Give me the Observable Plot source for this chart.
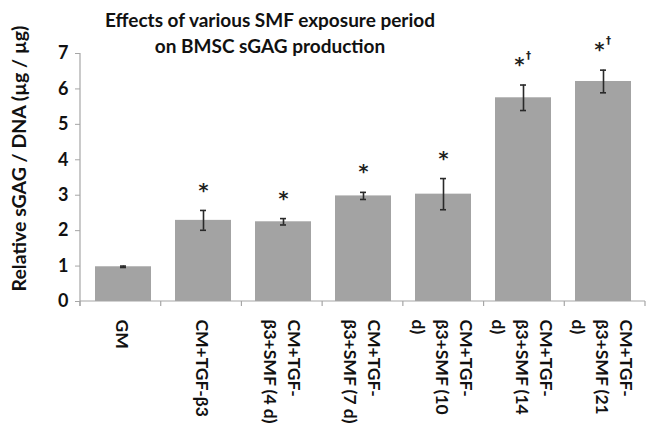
<!DOCTYPE html>
<html>
<head>
<meta charset="utf-8">
<script src="https://cdn.jsdelivr.net/npm/d3@7"></script>
<script src="https://cdn.jsdelivr.net/npm/@observablehq/plot@0.6"></script>
<style>
  body { margin: 0; background: #fff; }
  #wrap { position: relative; width: 648px; height: 430px; font-family: Lato, "Open Sans", sans-serif; }
  #title { position: absolute; left: 60px; width: 420px; top: 7px; text-align: center; font-weight: 700; font-size: 19px; line-height: 26px; color: #111; }
  #chart { position: absolute; left: 0; top: 0; }
</style>
</head>
<body>
<div id="wrap">
  <div id="chart"></div>
  <div id="title">Effects of various SMF exposure period<br>on BMSC sGAG production</div>
</div>
<script>
const categories = [
  "GM",
  "CM+TGF-β3",
  "CM+TGF-\nβ3+SMF (4 d)",
  "CM+TGF-\nβ3+SMF (7 d)",
  "CM+TGF-\nβ3+SMF (10\nd)",
  "CM+TGF-\nβ3+SMF (14\nd)",
  "CM+TGF-\nβ3+SMF (21\nd)"
];
const means = [0.98, 2.29, 2.25, 2.98, 3.03, 5.75, 6.21];
const errors = [0.02, 0.28, 0.09, 0.10, 0.44, 0.36, 0.32];
const marks = ["", "*", "*", "*", "*", "*†", "*†"];
const yTicks = [0, 1, 2, 3, 4, 5, 6, 7];
const yLabel = "Relative sGAG / DNA (µg / µg)";

const data = categories.map((c, i) => ({cat: c, mean: means[i], lo: means[i] - errors[i], hi: means[i] + errors[i], mark: marks[i]}));
const starOnly = data.filter(d => d.mark === "*");
const starDagger = data.filter(d => d.mark === "*†");

const axisLines = (index, scales, values, dim) => {
  const y = scales.y;
  const g = d3.create("svg:g").attr("stroke", "#a6a6a6").attr("stroke-width", 1.2);
  const left = dim.marginLeft, right = dim.width - dim.marginRight;
  const y0 = y(0);
  g.append("line").attr("x1", left).attr("x2", left).attr("y1", y(7)).attr("y2", y0 + 5);
  g.append("line").attr("x1", left).attr("x2", right).attr("y1", y0).attr("y2", y0);
  const step = (right - left) / categories.length;
  for (let i = 0; i <= categories.length; i++) {
    const bx = left + i * step;
    g.append("line").attr("x1", bx).attr("x2", bx).attr("y1", y0).attr("y2", y0 + 5);
  }
  return g.node();
};

const starFont = "'DejaVu Sans', sans-serif";

const chart = Plot.plot({
  width: 648,
  height: 430,
  marginLeft: 80,
  marginRight: 3,
  marginTop: 53,
  marginBottom: 129,
  style: {fontFamily: "Lato, 'Open Sans', sans-serif", color: "#111", background: "transparent"},
  x: {domain: categories, paddingInner: 0.3, paddingOuter: 0.15, axis: null},
  y: {domain: [0, 7], axis: null},
  marks: [
    Plot.barY(data, {x: "cat", y: "mean", fill: "#a3a3a3"}),
    Plot.ruleX(data, {x: "cat", y1: "lo", y2: "hi", stroke: "#2a2a2a", strokeWidth: 1.6}),
    Plot.tickY(data, {x: "cat", y: "lo", stroke: "#2a2a2a", strokeWidth: 1.6, insetLeft: 25, insetRight: 25}),
    Plot.tickY(data, {x: "cat", y: "hi", stroke: "#2a2a2a", strokeWidth: 1.6, insetLeft: 25, insetRight: 25}),
    Plot.text(starOnly, {x: "cat", y: "hi", text: () => "*", dy: -20, fontSize: 19, fontWeight: 700, fill: "#222", fontFamily: starFont, lineAnchor: "middle"}),
    Plot.text(starDagger, {x: "cat", y: "hi", text: () => "*", dx: -4, dy: -20, fontSize: 19, fontWeight: 700, fill: "#222", fontFamily: starFont, lineAnchor: "middle"}),
    Plot.text(starDagger, {x: "cat", y: "hi", text: () => "†", dx: 5, dy: -29, fontSize: 10, fontWeight: 700, fill: "#222", fontFamily: starFont, lineAnchor: "middle"}),
    axisLines,
    Plot.axisY({ticks: yTicks, tickSize: 5, tickPadding: 7, fontSize: 18, fontWeight: 700, stroke: "#a6a6a6", label: null, tickFormat: d => String(d)}),
    Plot.text([yLabel], {frameAnchor: "left", textAnchor: "middle", dx: -61, dy: -19, rotate: -90, fontSize: 19.5, fontWeight: 700, fill: "#111"}),
    Plot.text(categories, {x: d => d, frameAnchor: "bottom", dy: 18, rotate: 90, textAnchor: "start", lineAnchor: "middle", lineHeight: 1.35, fontSize: 17.5, fontWeight: 700, fill: "#111"})
  ]
});
document.getElementById("chart").appendChild(chart);
</script>
</body>
</html>
